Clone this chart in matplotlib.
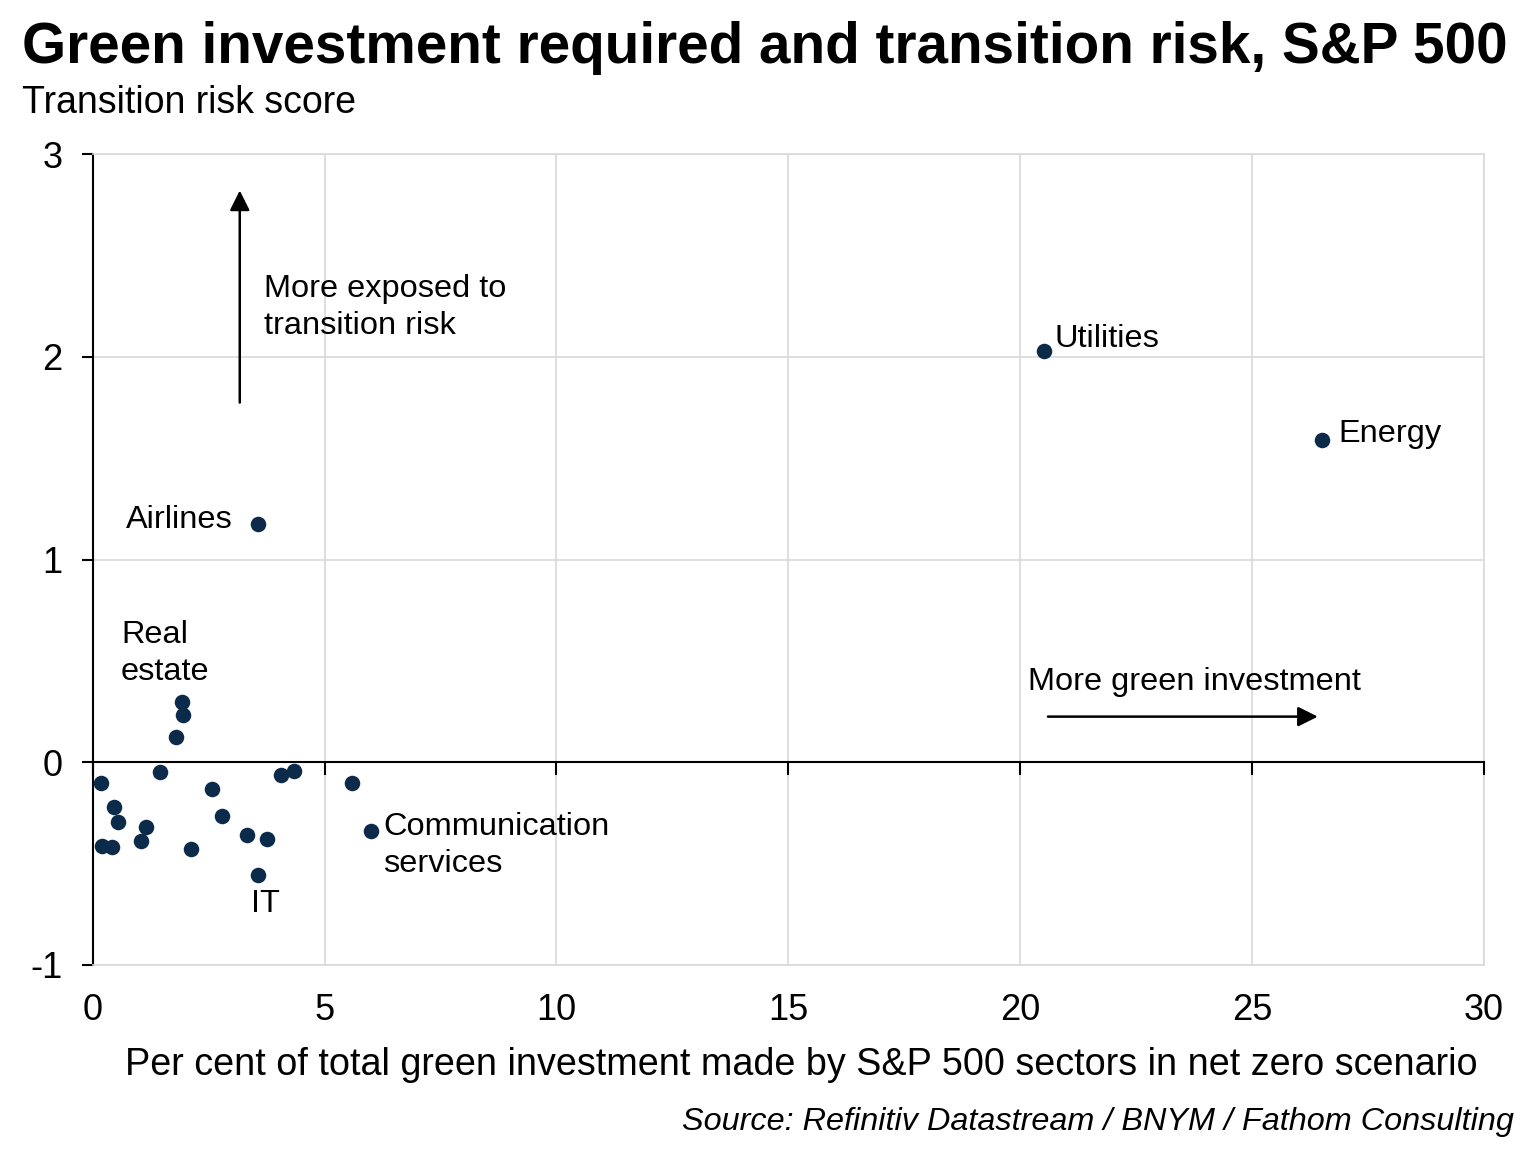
import matplotlib
matplotlib.use("Agg")
import matplotlib.pyplot as plt

plt.rcParams['font.family'] = ['Liberation Sans', 'DejaVu Sans']

# Data: (x = % of total green investment, y = transition risk score)
green_inv = [1.93, 1.95, 1.79, 1.46, 0.18, 0.46, 0.55, 1.14, 1.04, 0.19, 0.41, 2.11,
             2.57, 2.79, 3.33, 3.76, 3.57, 4.07, 4.35, 5.58, 6.00, 3.56, 20.52, 26.52]
risk_score = [0.296, 0.234, 0.127, -0.046, -0.10, -0.22, -0.296, -0.317, -0.39, -0.414, -0.419, -0.43,
              -0.131, -0.266, -0.358, -0.381, -0.554, -0.061, -0.044, -0.10, -0.337, 1.177, 2.03, 1.59]

labels = ["Utilities", "Energy", "Airlines", "Real\nestate", "Communication\nservices", "IT"]

navy = "#0c2b4b"
grid_c = "#d9d9d9"

fig = plt.figure(figsize=(15.36, 11.51), dpi=100)
ax = fig.add_axes([0.0604, 0.1616, 0.9056, 0.7046])

ax.scatter(green_inv, risk_score, s=125, color=navy, zorder=5, linewidths=0)

ax.set_xlim(0, 30)
ax.set_ylim(-1, 3)
ax.set_xticks([0, 5, 10, 15, 20, 25, 30])
ax.set_yticks([-1, 0, 1, 2, 3])
ax.set_yticklabels(["-1", "0", "1", "2", "3"])
ax.grid(True, color=grid_c, linewidth=1.2)
ax.set_axisbelow(True)

for s in ["top", "right", "bottom"]:
    ax.spines[s].set_color(grid_c)
    ax.spines[s].set_linewidth(1.2)
ax.spines["left"].set_color("black")
ax.spines["left"].set_linewidth(1.5)

ax.tick_params(axis='x', length=0, labelsize=26, pad=20)
ax.tick_params(axis='y', length=8, width=1.5, direction='out', labelsize=26, pad=14)

# zero line with ticks
sec = ax.secondary_xaxis(0, transform=ax.transData)
sec.set_zorder(3)
sec.set_xticks([0, 5, 10, 15, 20, 25, 30])
sec.set_xticklabels([])
sec.tick_params(length=9, width=1.5, direction='out', color='black')
sec.spines['bottom'].set_color('black')
sec.spines['bottom'].set_linewidth(1.5)

ax.set_xlabel("Per cent of total green investment made by S&P 500 sectors in net zero scenario",
              fontsize=27.2)
ax.xaxis.set_label_coords((801 - 92.7) / (1484 - 92.7), -(1065 - 965) / (965 - 154))
ax.xaxis.label.set_va('center')

# point labels
fs = 23.4
ls = 1.33
ax.text(20.74, 2.09, labels[0], fontsize=fs, va='center', ha='left')
ax.text(26.87, 1.62, labels[1], fontsize=fs, va='center', ha='left')
ax.text(3.02, 1.197, labels[2], fontsize=fs, va='center', ha='right')
ax.text(0.61, 0.536, labels[3], fontsize=fs, va='center', ha='left', linespacing=ls)
ax.text(6.27, -0.41, labels[4], fontsize=fs, va='center', ha='left', linespacing=ls)
ax.text(3.73, -0.697, labels[5], fontsize=fs, va='center', ha='center')

# direction annotations
arrow = dict(arrowstyle='-|>', color='black', lw=1.8, mutation_scale=30, shrinkA=0, shrinkB=0)
ax.annotate("", xy=(3.17, 2.82), xytext=(3.17, 1.774), arrowprops=arrow)
ax.text(3.69, 2.243, "More exposed to\ntransition risk", fontsize=fs, va='center', ha='left',
        linespacing=ls)
ax.annotate("", xy=(26.42, 0.225), xytext=(20.6, 0.225), arrowprops=arrow)
ax.text(20.18, 0.398, "More green investment", fontsize=fs, va='center', ha='left')

fig.text(22/1536, 1 - 48/1151, "Green investment required and transition risk, S&P 500",
         fontsize=40.8, fontweight='bold', va='center', ha='left')
fig.text(22/1536, 1 - 103/1151, "Transition risk score", fontsize=27, va='center', ha='left')
fig.text(1514/1536, 1 - 1122/1151, "Source: Refinitiv Datastream / BNYM / Fathom Consulting",
         fontsize=23.3, style='italic', va='center', ha='right')

fig.savefig("out.png", dpi=100)
